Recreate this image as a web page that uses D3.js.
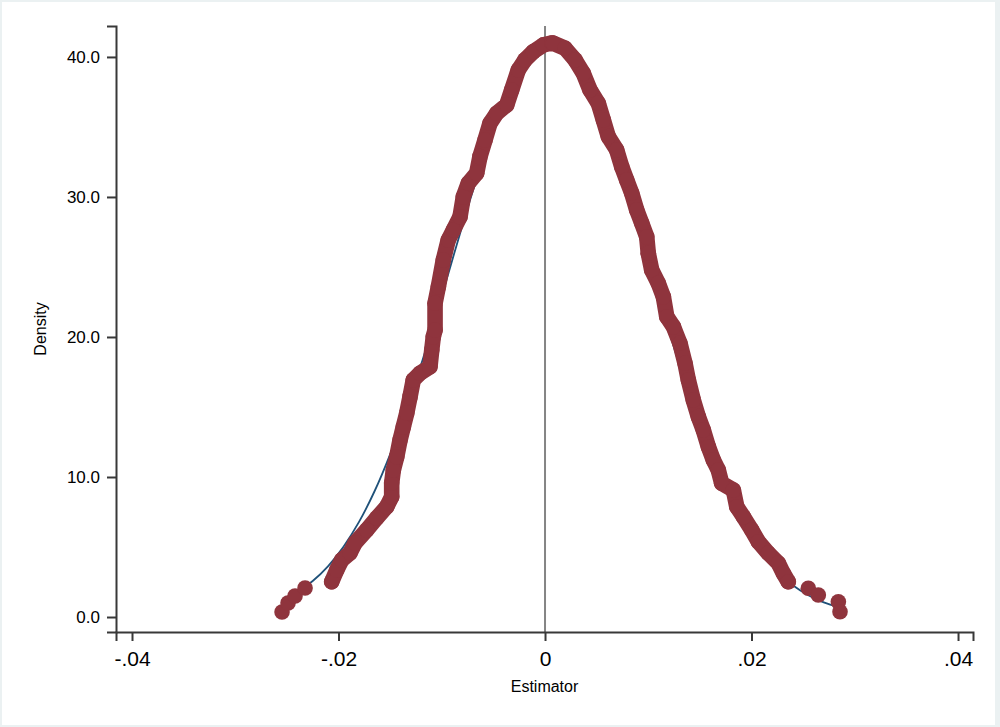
<!DOCTYPE html>
<html>
<head>
<meta charset="utf-8">
<script src="https://cdn.jsdelivr.net/npm/d3@7"></script>
<style>
  body { margin: 0; background: #ebf1f2; }
  svg { display: block; font-family: "Liberation Sans", Arial, Helvetica, sans-serif; }
  .axis path, .axis line { stroke: #383838; stroke-width: 2; }
  .axis text { fill: #000; }
</style>
</head>
<body>
<div id="chart"></div>
<script>
const width = 1000;
const height = 727;

// kernel density of the estimator: [estimator, density]
const tailLeft = [
  [-0.02547, 0.36], [-0.02489, 1.00], [-0.02421, 1.50], [-0.02324, 2.07]
];

const body = [
  [-0.02066, 2.52], [-0.02017, 3.36], [-0.01969, 4.07], [-0.01889, 4.57],
  [-0.01840, 5.29], [-0.01727, 6.21], [-0.01630, 7.07], [-0.01533, 7.88],
  [-0.01485, 8.59], [-0.01485, 9.57], [-0.01469, 10.50], [-0.01436, 11.45],
  [-0.01404, 12.64], [-0.01372, 13.59], [-0.01339, 14.57], [-0.01307, 15.74],
  [-0.01276, 16.93], [-0.01211, 17.41], [-0.01114, 17.88], [-0.01097, 19.07],
  [-0.01082, 20.02], [-0.01065, 20.50], [-0.01065, 22.41], [-0.01033, 23.59],
  [-0.00985, 25.50], [-0.00937, 26.93], [-0.00888, 27.64], [-0.00823, 28.59],
  [-0.00791, 30.02], [-0.00743, 30.98], [-0.00662, 31.69], [-0.00630, 32.88],
  [-0.00581, 34.07], [-0.00533, 35.26], [-0.00468, 35.98], [-0.00371, 36.57],
  [-0.00323, 37.64], [-0.00259, 39.07], [-0.00194, 39.79], [-0.00113, 40.38],
  [-0.00016, 40.86], [0.00068, 41.00], [0.00080, 40.98], [0.00194, 40.62],
  [0.00291, 39.79], [0.00371, 38.83], [0.00436, 37.64], [0.00516, 36.69],
  [0.00565, 35.50], [0.00613, 34.31], [0.00694, 33.36], [0.00743, 32.16],
  [0.00791, 31.21], [0.00840, 30.26], [0.00888, 29.07], [0.00937, 28.12],
  [0.00985, 27.16], [0.01000, 25.98], [0.01033, 24.79], [0.01097, 23.84],
  [0.01146, 22.88], [0.01179, 21.45], [0.01243, 20.74], [0.01307, 19.55],
  [0.01356, 18.12], [0.01388, 16.93], [0.01436, 15.50], [0.01485, 14.31],
  [0.01533, 13.36], [0.01582, 12.16], [0.01630, 11.21], [0.01678, 10.50],
  [0.01711, 9.55], [0.01824, 9.07], [0.01857, 7.88], [0.01921, 7.16],
  [0.02002, 6.21], [0.02066, 5.38], [0.02163, 4.55], [0.02260, 3.84],
  [0.02308, 3.12], [0.02356, 2.52]
];

const tailRight = [
  [0.02550, 2.05], [0.02647, 1.57], [0.02841, 1.09], [0.02857, 0.38]
];

// normal density overlay
const normalX = [
  -0.0255, -0.0240, -0.0225, -0.0210, -0.0195, -0.0180, -0.0165, -0.0150,
  -0.0135, -0.0120, -0.0105, -0.0090, -0.0075, -0.0060, -0.0045, -0.0030,
  -0.0015, 0.0000, 0.0015, 0.0030, 0.0045, 0.0060, 0.0075, 0.0090,
  0.0105, 0.0120, 0.0135, 0.0150, 0.0165, 0.0180, 0.0195, 0.0210,
  0.0225, 0.0240, 0.0255, 0.0270, 0.0285
];
const normalY = [
  1.19, 1.77, 2.57, 3.64, 5.04, 6.81, 9.00, 11.62,
  14.65, 18.03, 21.67, 25.45, 29.20, 32.71, 35.80, 38.27,
  39.96, 40.75, 40.59, 39.49, 37.53, 34.83, 31.58, 27.97,
  24.19, 20.44, 16.87, 13.59, 10.70, 8.23, 6.18, 4.54,
  3.25, 2.27, 1.56, 1.04, 0.68
];

const xTicks = [-0.04, -0.02, 0, 0.02, 0.04];
const xTickLabels = ["-.04", "-.02", "0", ".02", ".04"];
const yTicks = [0, 10, 20, 30, 40];

const markerColor = "#8f343d";
const lineColor = "#1f5179";
const markerR = 7.8;

const svg = d3.select("#chart")
  .append("svg")
    .attr("width", width)
    .attr("height", height);

// white graph region inside a thin light frame
svg.append("rect")
  .attr("x", 2)
  .attr("y", 2)
  .attr("width", 993)
  .attr("height", 723)
  .attr("fill", "#fff");

const xScale = d3.scaleLinear()
  .domain([-0.04155, 0.04145])
  .range([116, 973]);

const yScale = d3.scaleLinear()
  .domain([-1.07, 42.21])
  .range([632, 26]);

// vertical reference line at zero
svg.append("line")
  .attr("x1", xScale(0))
  .attr("x2", xScale(0))
  .attr("y1", yScale.range()[0])
  .attr("y2", yScale.range()[1])
  .attr("stroke", "#858585")
  .attr("stroke-width", 2);

// normal curve
const normalLine = d3.line()
  .x(d => xScale(d[0]))
  .y(d => yScale(d[1]))
  .curve(d3.curveCatmullRom);

svg.append("path")
  .datum(d3.zip(normalX, normalY))
  .attr("d", normalLine)
  .attr("fill", "none")
  .attr("stroke", lineColor)
  .attr("stroke-width", 1.8);

// markers: the dense middle part is also joined by a band as wide as a marker
const band = d3.line()
  .x(d => xScale(d[0]))
  .y(d => yScale(d[1]));

svg.append("path")
  .datum(body)
  .attr("d", band)
  .attr("fill", "none")
  .attr("stroke", markerColor)
  .attr("stroke-width", markerR * 2)
  .attr("stroke-linejoin", "round")
  .attr("stroke-linecap", "round");

svg.append("g")
  .selectAll("circle")
  .data([...tailLeft, ...body, ...tailRight])
  .join("circle")
    .attr("cx", d => xScale(d[0]))
    .attr("cy", d => yScale(d[1]))
    .attr("r", markerR)
    .attr("fill", markerColor);

// axes
const leftAxis = d3.axisLeft(yScale)
  .tickValues(yTicks)
  .tickFormat(d3.format(".1f"))
  .tickSizeOuter(0)
  .tickSize(9)
  .tickPadding(7);
svg.append("g")
    .attr("class", "axis axis-y")
    .attr("transform", `translate(${xScale.range()[0]}, 0)`)
    .call(leftAxis)
  .selectAll("text")
    .style("font-size", "17px");

const bottomAxis = d3.axisBottom(xScale)
  .tickValues(xTicks)
  .tickFormat((d, i) => xTickLabels[i])
  .tickSizeOuter(0)
  .tickSize(9)
  .tickPadding(10);
svg.append("g")
    .attr("class", "axis axis-x")
    .attr("transform", `translate(0, ${yScale.range()[0]})`)
    .call(bottomAxis)
  .selectAll("text")
    .style("font-size", "21px");

// axis titles
svg.append("text")
  .attr("x", (xScale.range()[0] + xScale.range()[1]) / 2)
  .attr("y", 692)
  .attr("text-anchor", "middle")
  .style("font-size", "16px")
  .text("Estimator");

svg.append("text")
  .attr("transform", `translate(46, ${(yScale.range()[0] + yScale.range()[1]) / 2}) rotate(-90)`)
  .attr("text-anchor", "middle")
  .style("font-size", "16px")
  .text("Density");
</script>
</body>
</html>
